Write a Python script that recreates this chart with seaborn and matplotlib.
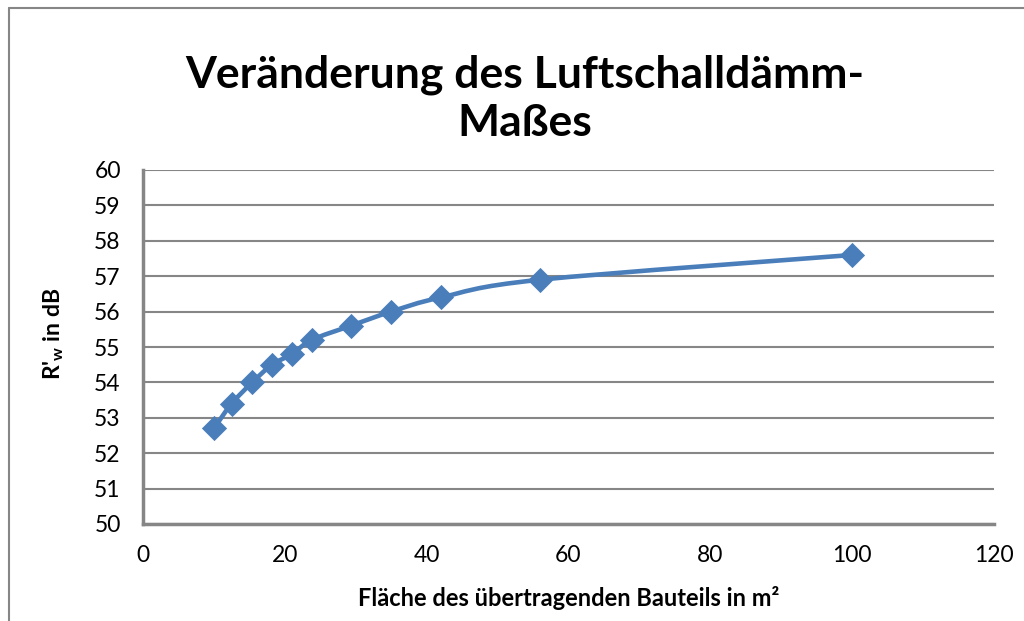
import numpy as np
import matplotlib
matplotlib.use("Agg")
import matplotlib.pyplot as plt
from matplotlib.path import Path
from matplotlib.patches import PathPatch
from matplotlib.lines import Line2D
import seaborn as sns

# data
flaeche = [10, 12.5, 15.4, 18.2, 21, 23.8, 29.3, 35, 42, 56, 100]
rw = [52.7, 53.4, 54.0, 54.5, 54.8, 55.2, 55.6, 56.0, 56.4, 56.9, 57.6]

x_ticks = [0, 20, 40, 60, 80, 100, 120]
y_ticks = list(range(50, 61))

title = "Veränderung des Luftschalldämm-\nMaßes"
x_label = "Fläche des übertragenden Bauteils in m²"
y_label = "R'$_\\mathregular{w}$ in dB"

blue = "#4A7EBB"
grey = "#868686"

sns.set_style("white")
plt.rcParams["font.family"] = ["Lato", "DejaVu Sans"]
plt.rcParams["text.color"] = "black"
plt.rcParams["axes.labelcolor"] = "black"

fig = plt.figure(figsize=(10.24, 6.21), dpi=100)
ax = fig.add_axes([143 / 1024, 1 - 524 / 621, (994 - 143) / 1024, (524 - 170) / 621])

# smooth line (Excel-style Catmull-Rom bezier)
pts = np.column_stack([flaeche, rw])
verts = [pts[0]]
codes = [Path.MOVETO]
for i in range(len(pts) - 1):
    p0 = pts[i - 1] if i > 0 else pts[i]
    p1, p2 = pts[i], pts[i + 1]
    p3 = pts[i + 2] if i + 2 < len(pts) else pts[i + 1]
    c1 = p1 + (p2 - p0) / 6
    c2 = p2 - (p3 - p1) / 6
    verts += [c1, c2, p2]
    codes += [Path.CURVE4] * 3
ax.add_patch(PathPatch(Path(verts, codes), facecolor="none", edgecolor=blue,
                       lw=3.3, transform=ax.transData, zorder=3, capstyle="round"))

sns.scatterplot(x=flaeche, y=rw, marker="D", s=165, color=blue,
                edgecolor=blue, linewidth=0, ax=ax, zorder=4)

ax.set_xlim(0, 120)
ax.set_ylim(50, 60)
ax.set_xticks(x_ticks)
ax.set_yticks(y_ticks)
ax.yaxis.grid(True, color=grey, lw=1.5)
ax.xaxis.grid(False)
ax.set_axisbelow(True)

for s in ["top", "right"]:
    ax.spines[s].set_visible(False)
for s in ["left", "bottom"]:
    ax.spines[s].set_color(grey)
    ax.spines[s].set_linewidth(2.5)

ax.tick_params(axis="both", direction="out", length=7, width=2.5, color=grey,
               labelsize=16.5, labelcolor="black")
ax.tick_params(axis="x", pad=8)
ax.tick_params(axis="y", pad=9)

ax.set_xlabel(x_label, fontsize=17, fontweight="bold")
ax.set_ylabel(y_label, fontsize=16.5, fontweight="bold")
ax.xaxis.set_label_coords(0.5, (524 - 586) / 354)
ax.yaxis.set_label_coords((66 - 143) / 851, (524 - 334) / 354)

fig.text(525 / 1024, 1 - 99 / 621, title, ha="center", va="center",
         fontsize=32, fontweight="bold", linespacing=1.25)

# chart area frame
fx = 8.5 / 1024
fy = 1 - 7.5 / 621
fig.add_artist(Line2D([fx, fx], [0, fy], color=grey, lw=1.5, transform=fig.transFigure))
fig.add_artist(Line2D([fx, 1], [fy, fy], color=grey, lw=1.5, transform=fig.transFigure))

fig.savefig("out.png", dpi=100)
